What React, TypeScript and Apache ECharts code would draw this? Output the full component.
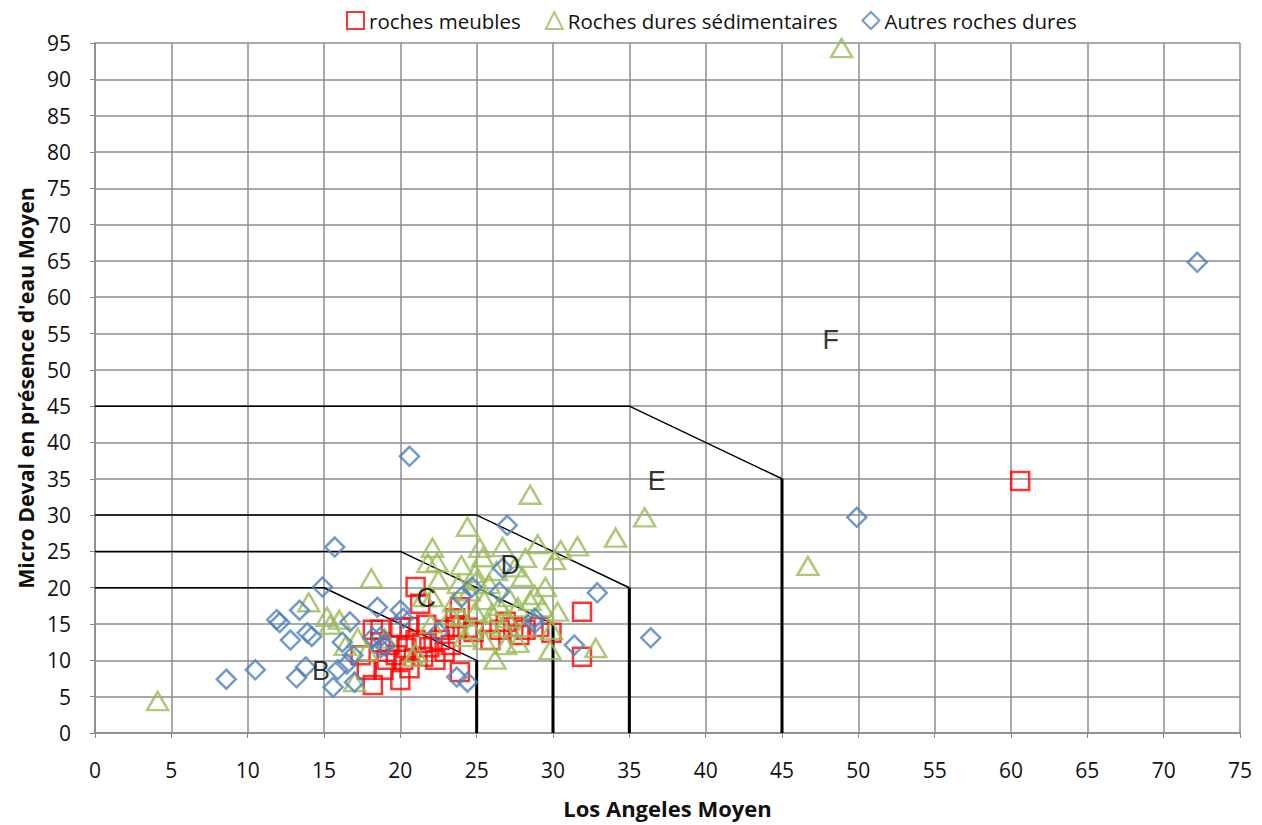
import React, { useEffect, useRef } from "react";
import * as echarts from "echarts";

// roches meubles [LA, MDE]
const rochesMeubles: number[][] = [
  [60.6, 34.7], [31.9, 16.7], [31.9, 10.5], [29.9, 13.8], [29.1, 14.6], [27.4, 14.6],
  [27.8, 13.5], [26.5, 14.2], [21.0, 20.1], [21.3, 17.8], [23.9, 17.3], [23.7, 14.6],
  [24.4, 14.5], [24.8, 13.9], [18.2, 14.2], [20.0, 14.5], [20.6, 14.6], [18.7, 12.5],
  [19.3, 12.1], [20.4, 11.7], [21.4, 12.4], [17.8, 8.7], [18.2, 6.6], [20.0, 7.3],
  [20.6, 8.9], [20.2, 10.1], [21.5, 10.5], [18.9, 8.7], [21.9, 11.8], [22.3, 10.1],
  [22.9, 11.2], [23.9, 8.4], [22.6, 12.8], [19.7, 10.7], [19.1, 10.1], [21.0, 12.8],
  [23.3, 12.1], [23.6, 15.8], [18.7, 14.2], [17.4, 10.7], [21.7, 14.9], [22.9, 14.2],
  [25.9, 12.8], [26.9, 15.3], [28.2, 14.2],
];

// Roches dures sédimentaires
const rochesSedimentaires: number[][] = [
  [48.9, 94.3], [46.7, 23.0], [36.0, 29.7], [34.1, 26.9], [28.5, 32.8], [32.8, 11.7],
  [4.1, 4.4], [24.4, 28.4], [31.6, 25.7], [29.0, 26.0], [26.7, 25.6], [25.2, 25.5],
  [30.5, 25.2], [22.1, 25.5], [18.1, 21.3], [14.0, 18.0], [15.2, 16.0], [16.0, 15.6],
  [21.5, 18.7], [21.8, 23.4], [22.4, 23.5], [24.0, 23.1], [22.5, 21.1], [25.4, 24.2],
  [28.2, 24.1], [30.1, 23.8], [24.9, 22.0], [28.0, 21.5], [28.8, 19.0], [29.5, 20.1],
  [27.1, 18.7], [27.7, 17.3], [25.5, 18.3], [24.9, 16.7], [24.0, 16.0], [22.1, 18.7],
  [29.3, 17.3], [30.3, 16.7], [23.3, 16.2], [24.2, 13.2], [25.5, 12.8], [26.2, 10.1],
  [26.9, 12.1], [27.7, 12.4], [29.8, 11.4], [24.7, 14.2], [26.7, 14.6], [28.2, 14.6],
  [29.9, 14.2], [15.4, 14.9], [17.2, 13.1], [17.8, 11.2], [21.0, 11.0], [17.0, 7.0],
  [16.4, 12.0], [19.0, 13.0], [25.8, 20.5], [26.3, 22.3], [27.5, 22.8], [24.5, 19.5],
  [23.5, 18.0], [26.0, 16.5], [27.0, 15.8], [25.0, 21.0], [26.5, 17.5], [28.5, 18.2],
  [23.8, 20.5], [25.8, 15.0], [22.0, 15.0], [20.8, 10.5],
];

// Autres roches dures
const autresRochesDures: number[][] = [
  [72.2, 64.8], [49.9, 29.7], [36.4, 13.1], [32.9, 19.3], [31.4, 12.1], [20.6, 38.1],
  [27.0, 28.6], [15.7, 25.6], [14.9, 20.1], [13.4, 16.9], [16.7, 15.3], [18.5, 17.3],
  [20.0, 16.9], [20.2, 15.8], [26.7, 22.7], [24.7, 20.1], [24.0, 18.7], [26.5, 19.4],
  [28.8, 15.8], [22.5, 13.9], [23.7, 7.7], [24.4, 7.0], [8.6, 7.4], [10.5, 8.7],
  [11.9, 15.6], [12.1, 15.2], [12.8, 12.8], [13.2, 7.6], [13.8, 9.1], [13.9, 13.8],
  [14.2, 13.3], [16.2, 12.5], [18.2, 13.1], [18.7, 13.2], [18.7, 11.7], [16.9, 10.7],
  [15.9, 8.7], [15.6, 6.3], [17.0, 7.0], [16.5, 9.5], [19.0, 12.0], [28.8, 15.1],
];

// Class boundaries (sloped/horizontal parts, then vertical parts)
const boundaryB: number[][] = [[0, 20], [15, 20], [25, 10]];
const boundaryC: number[][] = [[0, 25], [20, 25], [30, 15]];
const boundaryD: number[][] = [[0, 30], [25, 30], [35, 20]];
const boundaryE: number[][] = [[0, 45], [35, 45], [45, 35]];
const verticalB: number[][] = [[25, 10], [25, 0]];
const verticalC: number[][] = [[30, 15], [30, 0]];
const verticalD: number[][] = [[35, 20], [35, 0]];
const verticalE: number[][] = [[45, 35], [45, 0]];

const classLabels: string[] = ["B", "C", "D", "E", "F"];
const classLabelPos: number[][] = [[14.8, 8.5], [21.7, 18.6], [27.2, 23.1], [36.8, 34.7], [48.2, 54.1]];

const FONT = "'Open Sans', 'Noto Sans', sans-serif";

export default function App() {
  const ref = useRef<HTMLDivElement>(null);
  useEffect(() => {
    document.body.style.margin = "0";
    const chart = echarts.init(ref.current!, null, { renderer: "svg" });
    const lineSeries = (d: number[][], w: number) => ({
      type: "line",
      data: d,
      symbol: "none",
      silent: true,
      lineStyle: { color: "#000", width: w },
      z: 1,
    });
    chart.setOption({
      animation: false,
      textStyle: { fontFamily: FONT },
      grid: { left: 95, right: 22, top: 43, bottom: 92, containLabel: false },
      legend: {
        data: ["roches meubles", "Roches dures sédimentaires", "Autres roches dures"],
        left: 341,
        top: 5,
        itemGap: 24,
        itemWidth: 17,
        itemHeight: 17,
        textStyle: { fontSize: 20.5, color: "#111", fontFamily: FONT },
      },
      xAxis: {
        type: "value",
        min: 0,
        max: 75,
        interval: 5,
        name: "Los Angeles Moyen",
        nameLocation: "middle",
        nameGap: 64,
        nameTextStyle: { fontSize: 22, fontWeight: "bold", color: "#111", fontFamily: FONT },
        axisLine: { show: true, lineStyle: { color: "#888", width: 1.5 } },
        axisTick: { show: true, length: 5, lineStyle: { color: "#888" } },
        axisLabel: { fontSize: 21, color: "#111", margin: 26, fontFamily: FONT },
        splitLine: { show: true, lineStyle: { color: "#8c8c8c", width: 1.5 } },
      },
      yAxis: {
        type: "value",
        min: 0,
        max: 95,
        interval: 5,
        name: "Micro Deval en présence d'eau Moyen",
        nameLocation: "middle",
        nameGap: 56,
        nameTextStyle: { fontSize: 21.3, fontWeight: "bold", color: "#111", fontFamily: FONT },
        axisLine: { show: true, lineStyle: { color: "#888", width: 1.5 } },
        axisTick: { show: true, length: 5, lineStyle: { color: "#888" } },
        axisLabel: { fontSize: 21, color: "#111", margin: 24, fontFamily: FONT },
        splitLine: { show: true, lineStyle: { color: "#8c8c8c", width: 1.5 } },
      },
      series: [
        lineSeries(boundaryB, 1.5),
        lineSeries(boundaryC, 1.5),
        lineSeries(boundaryD, 1.5),
        lineSeries(boundaryE, 1.5),
        lineSeries(verticalB, 3),
        lineSeries(verticalC, 3),
        lineSeries(verticalD, 3),
        lineSeries(verticalE, 3),
        {
          name: "roches meubles",
          type: "scatter",
          data: rochesMeubles,
          symbol: "rect",
          symbolSize: 18,
          itemStyle: { color: "rgba(0,0,0,0)", borderColor: "#FF0000", borderWidth: 2.5 },
          z: 3,
        },
        {
          name: "Roches dures sédimentaires",
          type: "scatter",
          data: rochesSedimentaires,
          symbol: "triangle",
          symbolSize: [21, 18],
          itemStyle: { color: "rgba(0,0,0,0)", borderColor: "#9BBB59", borderWidth: 2.5 },
          z: 4,
        },
        {
          name: "Autres roches dures",
          type: "scatter",
          data: autresRochesDures,
          symbol: "diamond",
          symbolSize: 19,
          itemStyle: { color: "rgba(0,0,0,0)", borderColor: "#4F81BD", borderWidth: 2.5 },
          z: 5,
        },
        {
          type: "scatter",
          silent: true,
          symbolSize: 1,
          itemStyle: { color: "rgba(0,0,0,0)" },
          data: classLabelPos.map((p, i) => ({ value: p, name: classLabels[i] })),
          label: {
            show: true,
            position: "inside",
            formatter: (p: any) => p.name,
            fontSize: 27,
            color: "#000",
            fontFamily: "'Liberation Sans', Arial, sans-serif",
          },
          z: 6,
        },
      ],
    });
    return () => chart.dispose();
  }, []);
  return <div ref={ref} style={{ width: 1262, height: 825 }} />;
}
